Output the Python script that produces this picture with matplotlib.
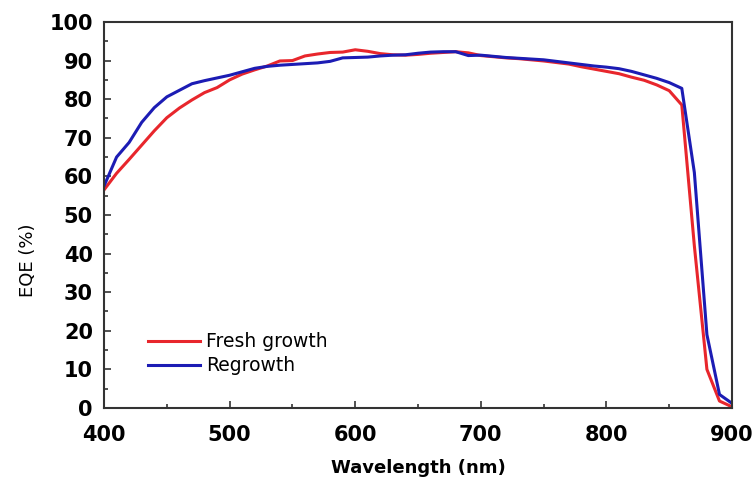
import matplotlib
matplotlib.use("Agg")
import matplotlib.pyplot as plt
from matplotlib.ticker import MultipleLocator

plt.rcParams['font.family'] = ['DejaVu Sans']

wavelength = list(range(400, 901, 10))

fresh_growth = [
    56.5, 60.8, 64.4, 68.1, 71.8, 75.2, 77.7, 79.8, 81.7, 83.0,
    85.0, 86.5, 87.6, 88.6, 89.9, 90.0, 91.2, 91.7, 92.1, 92.2,
    92.8, 92.4, 91.8, 91.5, 91.4, 91.6, 91.9, 92.1, 92.3, 92.0,
    91.3, 91.0, 90.7, 90.5, 90.2, 89.9, 89.5, 89.1, 88.4, 87.8,
    87.2, 86.6, 85.7, 84.9, 83.7, 82.2, 78.5, 42.0, 10.0, 1.8,
    0.3,
]

regrowth = [
    57.5, 65.0, 68.8, 74.0, 77.8, 80.6, 82.3, 84.0, 84.8, 85.5,
    86.2, 87.1, 88.0, 88.5, 88.8, 89.0, 89.2, 89.4, 89.8, 90.7,
    90.8, 90.9, 91.2, 91.4, 91.5, 91.9, 92.2, 92.3, 92.3, 91.3,
    91.4, 91.1, 90.8, 90.6, 90.4, 90.2, 89.8, 89.4, 89.0, 88.6,
    88.3, 87.9, 87.2, 86.3, 85.4, 84.3, 82.8, 61.0, 19.0, 3.5,
    1.2,
]

fig = plt.figure(figsize=(7.56, 4.83), dpi=100)
ax = fig.add_axes([0.1376, 0.1553, 0.8307, 0.7992])

ax.plot(wavelength, fresh_growth, color='#e8262c', lw=2.2, label='Fresh growth')
ax.plot(wavelength, regrowth, color='#1c1cb4', lw=2.2, label='Regrowth')

ax.set_xlim(400, 900)
ax.set_ylim(0, 100)
ax.xaxis.set_major_locator(MultipleLocator(100))
ax.xaxis.set_minor_locator(MultipleLocator(50))
ax.yaxis.set_major_locator(MultipleLocator(10))
ax.yaxis.set_minor_locator(MultipleLocator(5))

ax.tick_params(which='both', direction='in', top=False, right=False,
               color='#333333', width=1.2)
ax.tick_params(which='major', length=5, labelsize=15)
ax.tick_params(which='minor', length=3)
ax.tick_params(axis='x', which='major', pad=12)
ax.tick_params(axis='y', which='major', pad=8)
for lab in ax.get_xticklabels() + ax.get_yticklabels():
    lab.set_fontweight('bold')

for sp in ax.spines.values():
    sp.set_linewidth(1.5)
    sp.set_color('#333333')

ax.set_xlabel('Wavelength (nm)', fontsize=13, fontweight='bold', labelpad=10)
ax.set_ylabel('EQE (%)', fontsize=13)
ax.yaxis.set_label_coords(-0.107, 0.383)

ax.legend(loc='upper left', bbox_to_anchor=(0.058, 0.215), frameon=False,
          fontsize=13.5, handlelength=2.75, handletextpad=0.37, labelspacing=0.25,
          borderaxespad=0)

fig.savefig('out.png', dpi=100)
